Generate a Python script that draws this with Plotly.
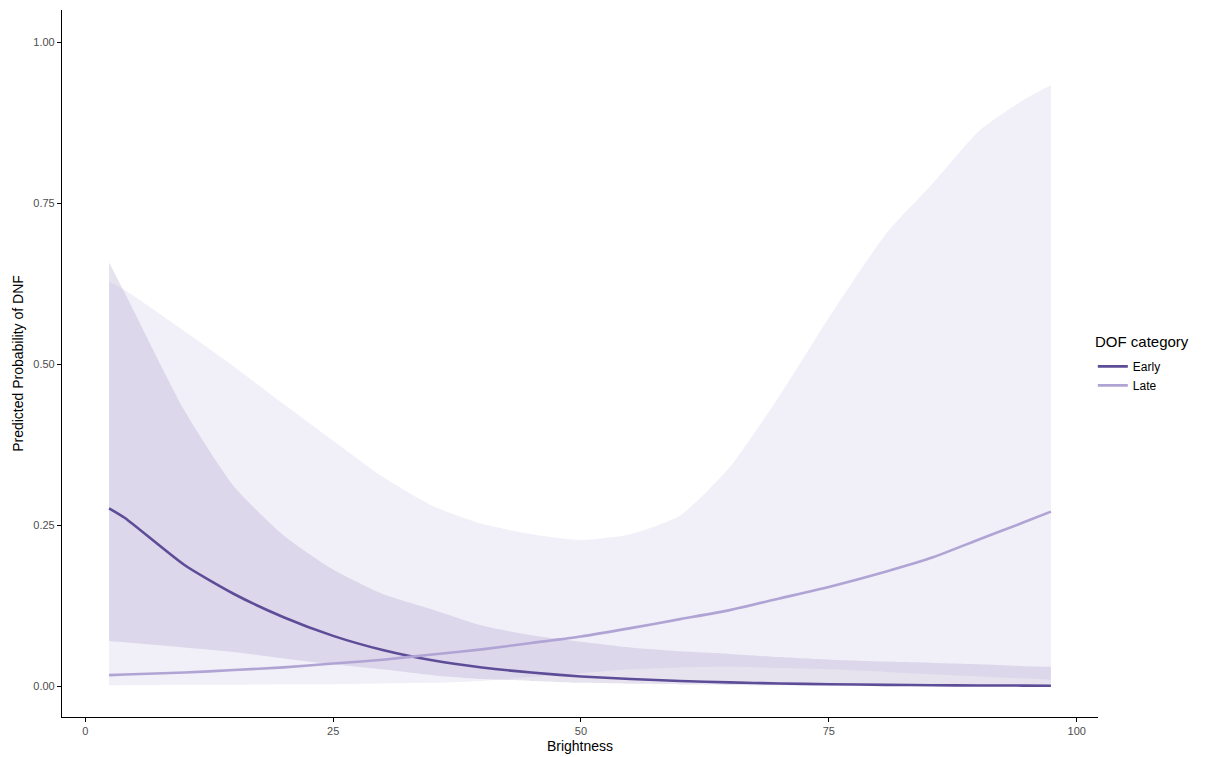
import plotly.graph_objects as go

# Brightness grid (x values of predictions)
brightness = [2.4, 4, 10, 15, 20, 25, 30, 35, 40, 45, 50, 55, 60, 65, 70, 75, 80.8, 85.5, 90.2, 94.6, 97.4]

# Early DOF category
early_fit = [0.276, 0.261, 0.188, 0.143, 0.107, 0.078, 0.056, 0.040, 0.029, 0.021, 0.015, 0.011,
             0.008, 0.0057, 0.0041, 0.0029, 0.0019, 0.0014, 0.0010, 0.0008, 0.0006]
early_upper = [0.658, 0.610, 0.428, 0.310, 0.234, 0.181, 0.143, 0.119, 0.094, 0.079, 0.069, 0.060,
               0.054, 0.050, 0.045, 0.041, 0.038, 0.036, 0.034, 0.031, 0.030]
early_lower = [0.070, 0.068, 0.060, 0.053, 0.043, 0.034, 0.026, 0.017, 0.011, 0.008, 0.005, 0.0035,
               0.0025, 0.0018, 0.0013, 0.0010, 0.0007, 0.0005, 0.0004, 0.0003, 0.0002]

# Late DOF category
late_fit = [0.017, 0.018, 0.021, 0.025, 0.029, 0.035, 0.041, 0.049, 0.057, 0.067, 0.077, 0.090,
            0.104, 0.118, 0.136, 0.154, 0.178, 0.200, 0.228, 0.254, 0.271]
late_upper = [0.628, 0.615, 0.551, 0.496, 0.438, 0.381, 0.325, 0.280, 0.252, 0.236, 0.227, 0.236,
              0.265, 0.340, 0.450, 0.572, 0.703, 0.781, 0.863, 0.910, 0.933]
late_lower = [0.0015, 0.0015, 0.002, 0.002, 0.003, 0.003, 0.004, 0.005, 0.008, 0.014, 0.020, 0.026,
              0.029, 0.030, 0.028, 0.026, 0.022, 0.018, 0.015, 0.012, 0.010]

categories = ["Early", "Late"]
legend_title = "DOF category"
line_colors = {"Early": "#5d4c98", "Late": "#b0a4d5"}
fill_colors = {"Early": "rgba(94,76,151,0.155)", "Late": "rgba(169,157,209,0.16)"}

series = {
    "Early": (early_fit, early_lower, early_upper),
    "Late": (late_fit, late_lower, late_upper),
}

fig = go.Figure()

# Ribbons (lower bound, then upper bound filled to it)
for cat in categories:
    fit, lo, hi = series[cat]
    fig.add_trace(go.Scatter(
        x=brightness, y=lo, mode="lines",
        line=dict(width=0, shape="spline", smoothing=0.6),
        hoverinfo="skip", showlegend=False,
    ))
    fig.add_trace(go.Scatter(
        x=brightness, y=hi, mode="lines", fill="tonexty", fillcolor=fill_colors[cat],
        line=dict(width=0, shape="spline", smoothing=0.6),
        hoverinfo="skip", showlegend=False,
    ))

# Lines
for cat in categories:
    fit, lo, hi = series[cat]
    fig.add_trace(go.Scatter(
        x=brightness, y=fit, mode="lines", name=cat,
        line=dict(color=line_colors[cat], width=2.6, shape="spline", smoothing=0.6),
    ))

axis_common = dict(
    showgrid=False, zeroline=False, showline=True, linecolor="black", linewidth=1.2,
    ticks="outside", ticklen=4, tickcolor="black", tickwidth=1,
    tickfont=dict(family="Liberation Sans, Arial", size=11, color="#4d4d4d"),
    mirror=False, automargin=False,
)

fig.update_layout(
    width=1224, height=757,
    margin=dict(l=62, r=126, t=10, b=40),
    paper_bgcolor="white", plot_bgcolor="white",
    font=dict(family="Liberation Sans, Arial", color="black"),
    xaxis=dict(
        range=[-2.35, 102.15], tickvals=[0, 25, 50, 75, 100],
        ticktext=["0", "25", "50", "75", "100"],
        title=dict(text="Brightness", font=dict(size=14), standoff=4),
        **axis_common,
    ),
    yaxis=dict(
        range=[-0.048, 1.05], tickvals=[0, 0.25, 0.5, 0.75, 1.0],
        ticktext=["0.00", "0.25", "0.50", "0.75", "1.00"],
        title=dict(text="Predicted Probability of DNF", font=dict(size=14), standoff=6),
        **axis_common,
    ),
    legend=dict(
        font=dict(size=12), traceorder="normal",
        x=0.995, xanchor="left", y=0.5165, yanchor="top",
        bgcolor="rgba(0,0,0,0)", tracegroupgap=0, itemwidth=30,
    ),
    annotations=[dict(
        text=legend_title, xref="paper", yref="paper", x=0.995, y=0.531,
        xanchor="left", yanchor="middle", showarrow=False,
        font=dict(size=15, color="black"),
    )],
)

fig.write_html(
    "out.html",
    config={"displayModeBar": False},
    post_script="document.body.style.margin='0';document.body.style.overflow='hidden';",
)
